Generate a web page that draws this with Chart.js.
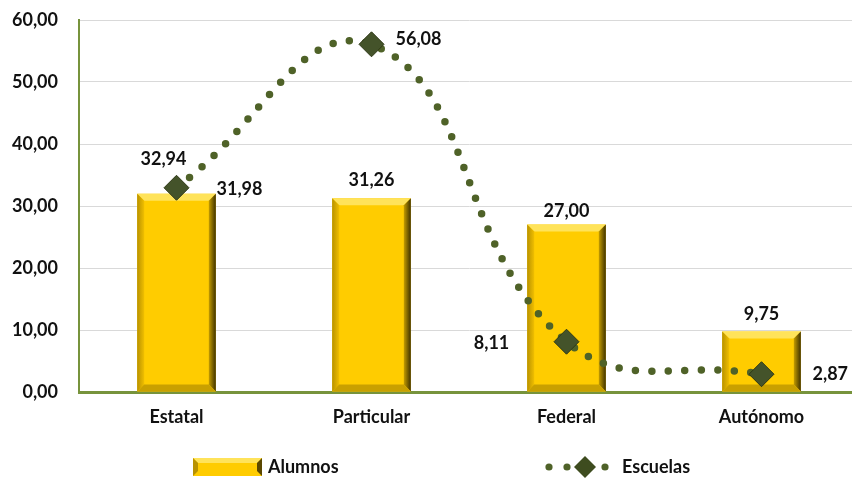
<!DOCTYPE html>
<html>
<head>
<meta charset="utf-8">
<script src="https://cdn.jsdelivr.net/npm/chart.js@4.4.1/dist/chart.umd.min.js"></script>
<style>
  html, body { margin: 0; padding: 0; background: #fff; overflow: hidden; }
  #wrap { width: 852px; height: 478px; position: relative; overflow: hidden; }
</style>
</head>
<body>
<div id="wrap"><canvas id="chart" width="880" height="478"></canvas></div>
<script>
// ===== Data =====
const categories = ['Estatal', 'Particular', 'Federal', 'Autónomo'];
const alumnos = [31.98, 31.26, 27.00, 9.75];
const escuelas = [32.94, 56.08, 8.11, 2.87];
const yTicks = [0, 10, 20, 30, 40, 50, 60];

const FONT = 'Lato, "Open Sans", sans-serif';
const GREEN = '#4F6228';
const fmt = v => v.toFixed(2).replace('.', ',');

// label offsets per series (dx, dy, align)
const barLabelPos = [[40, -5, 'left'], [0, -18, 'center'], [0, -13, 'center'], [0, -17, 'center']];
const lineLabelPos = [[-13, -29, 'center'], [24, -5, 'left'], [-75, 1, 'center'], [51, 0, 'left']];

const BAR_DS = 1, LINE_DS = 0;

// Bevel effect on the gold bars
const bevelPlugin = {
  id: 'bevel',
  afterDatasetDraw(chart, args) {
    if (args.index !== BAR_DS) return;
    const ctx = chart.ctx;
    args.meta.data.forEach(bar => {
      const l = bar.x - bar.width / 2, r = bar.x + bar.width / 2;
      const t = bar.y, b = bar.base, s = 7;
      ctx.save();
      // top
      ctx.fillStyle = '#FFE35A';
      ctx.beginPath(); ctx.moveTo(l, t); ctx.lineTo(r, t); ctx.lineTo(r - s, t + s); ctx.lineTo(l + s, t + s); ctx.fill();
      // left
      let g = ctx.createLinearGradient(l, 0, l + s, 0);
      g.addColorStop(0, '#B89200'); g.addColorStop(1, '#F0BE00');
      ctx.fillStyle = g;
      ctx.beginPath(); ctx.moveTo(l, t); ctx.lineTo(l + s, t + s); ctx.lineTo(l + s, b - s); ctx.lineTo(l, b); ctx.fill();
      // right
      g = ctx.createLinearGradient(r - s, 0, r, 0);
      g.addColorStop(0, '#C49C00'); g.addColorStop(1, '#3F3200');
      ctx.fillStyle = g;
      ctx.beginPath(); ctx.moveTo(r, t); ctx.lineTo(r, b); ctx.lineTo(r - s, b - s); ctx.lineTo(r - s, t + s); ctx.fill();
      // bottom
      ctx.fillStyle = '#C9A000';
      ctx.beginPath(); ctx.moveTo(l, b); ctx.lineTo(l + s, b - s); ctx.lineTo(r - s, b - s); ctx.lineTo(r, b); ctx.fill();
      ctx.restore();
    });
  }
};

// Value labels
const labelsPlugin = {
  id: 'valueLabels',
  afterDatasetsDraw(chart) {
    const ctx = chart.ctx;
    ctx.save();
    ctx.font = 'bold 18px ' + FONT;
    ctx.fillStyle = '#111';
    ctx.textBaseline = 'middle';
    chart.getDatasetMeta(BAR_DS).data.forEach((bar, i) => {
      const p = barLabelPos[i];
      ctx.textAlign = p[2];
      ctx.fillText(fmt(alumnos[i]), bar.x + p[0], bar.y + p[1]);
    });
    chart.getDatasetMeta(LINE_DS).data.forEach((pt, i) => {
      const p = lineLabelPos[i];
      ctx.textAlign = p[2];
      ctx.fillText(fmt(escuelas[i]), pt.x + p[0], pt.y + p[1]);
    });
    ctx.restore();
  }
};

// Legend drawn at the bottom
const legendPlugin = {
  id: 'customLegend',
  afterDraw(chart) {
    const ctx = chart.ctx;
    const y = 467;
    ctx.save();
    // Alumnos swatch
    const l = 193, r = 262, t = y - 9, b = y + 9, s = 5;
    ctx.fillStyle = '#FFCC00';
    ctx.fillRect(l, t, r - l, b - t);
    ctx.fillStyle = '#FFE35A';
    ctx.beginPath(); ctx.moveTo(l, t); ctx.lineTo(r, t); ctx.lineTo(r - s, t + s); ctx.lineTo(l + s, t + s); ctx.fill();
    ctx.fillStyle = '#5a4700';
    ctx.beginPath(); ctx.moveTo(r, t); ctx.lineTo(r, b); ctx.lineTo(r - s, b - s); ctx.lineTo(r - s, t + s); ctx.fill();
    ctx.fillStyle = '#B89200';
    ctx.beginPath(); ctx.moveTo(l, t); ctx.lineTo(l + s, t + s); ctx.lineTo(l + s, b - s); ctx.lineTo(l, b); ctx.fill();
    // Escuelas swatch
    ctx.fillStyle = GREEN;
    [549, 567, 605].forEach(x => { ctx.beginPath(); ctx.arc(x, y, 3.6, 0, Math.PI * 2); ctx.fill(); });
    ctx.fillStyle = '#3E4C1F';
    ctx.beginPath(); ctx.moveTo(585, y - 11); ctx.lineTo(596, y); ctx.lineTo(585, y + 11); ctx.lineTo(574, y); ctx.closePath(); ctx.fill();
    // text
    ctx.fillStyle = '#111';
    ctx.font = 'bold 18px ' + FONT;
    ctx.textBaseline = 'middle';
    ctx.textAlign = 'left';
    ctx.fillText('Alumnos', 268, y);
    ctx.fillText('Escuelas', 622, y);
    ctx.restore();
  }
};

const ctx = document.getElementById('chart').getContext('2d');
new Chart(ctx, {
  data: {
    labels: categories,
    datasets: [
      {
        type: 'line',
        label: 'Escuelas',
        data: escuelas,
        borderColor: GREEN,
        borderWidth: 7.5,
        borderDash: [0, 16.5],
        borderCapStyle: 'round',
        tension: 0.45,
        pointStyle: 'rectRot',
        pointRadius: 12.5,
        pointBackgroundColor: '#44532A',
        pointBorderColor: '#2E3816',
        pointBorderWidth: 1,
        order: 0
      },
      {
        type: 'bar',
        label: 'Alumnos',
        data: alumnos,
        backgroundColor: '#FFCC00',
        barPercentage: 0.8,
        categoryPercentage: 0.504,
        order: 1
      }
    ]
  },
  options: {
    responsive: false,
    animation: false,
    layout: { autoPadding: false, padding: { top: 20, right: 21, left: 0, bottom: 0 } },
    scales: {
      x: {
        grid: { display: false, drawTicks: false },
        border: { color: '#77933C', width: 3 },
        ticks: { color: '#111', font: { family: FONT, size: 18, weight: 'bold' }, padding: 14 },
        afterFit(scale) { scale.height = 86; }
      },
      y: {
        min: 0,
        max: 60,
        afterBuildTicks(scale) { scale.ticks = yTicks.map(v => ({ value: v })); },
        grid: { color: '#D9D9D9', lineWidth: 1, drawTicks: true, tickLength: 21, tickColor: 'rgba(0,0,0,0)' },
        border: { color: '#77933C', width: 2 },
        ticks: {
          color: '#111',
          font: { family: FONT, size: 18, weight: 'bold' },
          padding: 0,
          callback: v => fmt(v)
        },
        afterFit(scale) { scale.width = 79; }
      }
    },
    plugins: {
      legend: { display: false },
      tooltip: { enabled: false }
    }
  },
  plugins: [bevelPlugin, labelsPlugin, legendPlugin]
});
</script>
</body>
</html>
